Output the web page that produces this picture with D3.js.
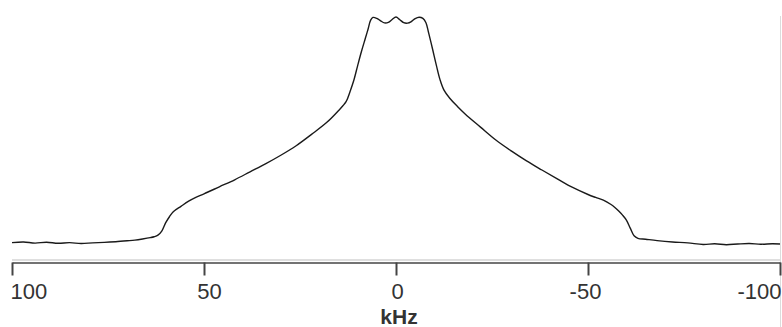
<!DOCTYPE html>
<html>
<head>
<meta charset="utf-8">
<script src="https://cdn.jsdelivr.net/npm/d3@7"></script>
<style>
  html, body { margin: 0; padding: 0; background: #fff; }
  svg { display: block; }
</style>
</head>
<body>
<svg id="chart" width="782" height="327"></svg>
<script>
// Frequency offset (kHz) and relative intensity of the powder spectrum
const freq = [
  100, 97, 94, 91, 88, 85, 82, 79, 76, 73, 70, 68, 66, 64, 63, 62, 61, 60, 59, 58,
  56, 54, 52, 50, 46, 42, 38, 34, 30, 26, 22, 18, 15, 13, 12, 11, 10, 9, 8, 7.3,
  6.6, 6, 5, 4, 3, 2, 1, 0, -1, -2, -3, -4, -5, -6, -7, -7.8, -8.5, -9.5, -10.5, -11.5,
  -12.5, -14, -16, -18, -22, -26, -30, -34, -38, -42, -46, -50, -52, -54, -56, -57, -58, -59, -60, -61,
  -62, -63, -65, -68, -72, -76, -80, -83, -86, -89, -92, -95, -98, -100
];
const intensity = [
  0.6, 0.9, 0.4, 0.8, 0.3, 0.6, 0.2, 0.5, 0.7, 1.0, 1.4, 1.7, 2.2, 2.8, 3.2, 3.9, 5.7, 9.3, 12.0, 14.2,
  16.6, 18.9, 20.7, 22.1, 25.2, 28.3, 31.8, 35.3, 39.1, 43.3, 48.3, 53.6, 58.7, 62.7, 67.0, 72.0, 78.5, 84.8, 90.5, 94.5,
  98.6, 99.8, 99.4, 98.3, 97.4, 97.6, 98.9, 100.0, 98.8, 97.5, 97.3, 98.0, 99.3, 99.9, 99.4, 97.5, 93.0, 86.0, 78.8, 72.2,
  67.8, 64.2, 60.6, 57.3, 51.5, 45.8, 41.0, 36.6, 32.6, 28.7, 24.9, 21.8, 20.5, 19.3, 17.4, 16.1, 14.5, 12.7, 10.5, 7.0,
  3.6, 2.5, 2.1, 1.5, 0.9, 0.5, -0.2, 0.1, -0.3, 0.0, 0.2, -0.1, 0.1, 0.0
];
const tickValues = [100, 50, 0, -50, -100];
const tickLabels = ["100", "50", "0", "-50", "-100"];
const axisTitle = "kHz";

const svg = d3.select("#chart");
const font = "'Liberation Sans', Arial, Helvetica, sans-serif";

const x = d3.scaleLinear().domain([100, -100]).range([12, 780]);
const y = d3.scaleLinear().domain([0, 100]).range([244, 17]);

// light frame edges of the plot region
svg.append("line")
  .attr("x1", x(100)).attr("x2", x(-100))
  .attr("y1", 260).attr("y2", 260)
  .attr("stroke", "#d4d4d4").attr("stroke-width", 1.5);
svg.append("line")
  .attr("x1", 780.5).attr("x2", 780.5)
  .attr("y1", 16).attr("y2", 327)
  .attr("stroke", "#dcdcdc").attr("stroke-width", 1);

// spectrum trace
const pts = freq.map((f, i) => [f, intensity[i]]);
const line = d3.line()
  .x(d => x(d[0]))
  .y(d => y(d[1]))
  .curve(d3.curveCatmullRom.alpha(0.5));

svg.append("path")
  .datum(pts)
  .attr("d", line)
  .attr("fill", "none")
  .attr("stroke", "#1a1a1a")
  .attr("stroke-width", 1.4)
  .attr("stroke-linejoin", "round");

// frequency axis
const axis = d3.axisBottom(x)
  .tickValues(tickValues)
  .tickFormat((d, i) => tickLabels[i])
  .tickSize(13)
  .tickSizeOuter(0)
  .tickPadding(8);

const gAxis = svg.append("g")
  .attr("transform", "translate(0,262.5)")
  .call(axis);

gAxis.select(".domain")
  .attr("stroke", "#444")
  .attr("stroke-width", 1.6);
gAxis.selectAll(".tick line")
  .attr("stroke", "#444")
  .attr("stroke-width", 2);
gAxis.selectAll(".tick text")
  .attr("fill", "#333")
  .style("font-family", font)
  .style("font-size", "22px")
  .attr("text-anchor", d => d === 100 ? "start" : d === -100 ? "end" : "middle")
  .attr("dx", d => d === 100 ? -2 : d === -100 ? 1 : d === 50 ? 5 : d === -50 ? -3 : 1);

svg.append("text")
  .attr("x", x(0) + 3)
  .attr("y", 324)
  .attr("text-anchor", "middle")
  .attr("fill", "#333")
  .style("font-family", font)
  .style("font-size", "21px")
  .style("font-weight", "bold")
  .text(axisTitle);
</script>
</body>
</html>
